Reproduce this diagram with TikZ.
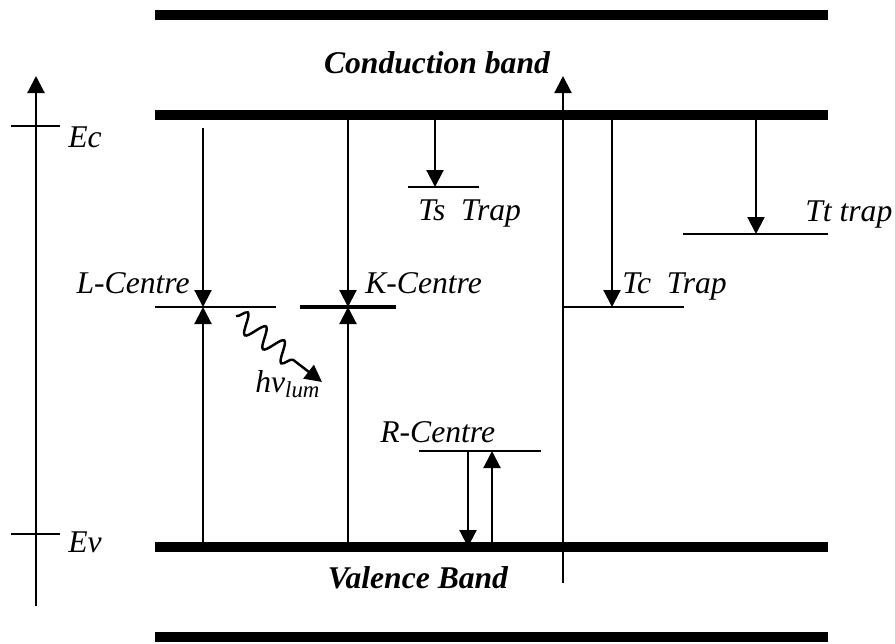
\documentclass[tikz,border=0pt]{standalone}
\usepackage{fontspec}
\setmainfont{Liberation Serif}
\usetikzlibrary{arrows.meta,decorations.pathmorphing}

\begin{document}
\begin{tikzpicture}[x=0.02cm, y=-0.02cm, >={Triangle[length=0.34cm, width=0.34cm]},
    band/.style={line width=6.2pt},
    level/.style={line width=1.2pt},
    trans/.style={->, line width=1.2pt},
    lbl/.style={font=\fontsize{18}{21}\selectfont\itshape, inner sep=0pt, anchor=base west},
    bandlbl/.style={font=\fontsize{18}{21}\selectfont\bfseries\itshape, inner sep=0pt, anchor=base}]
    \useasboundingbox (0,0) rectangle (895,643);
    % bands
    \draw[band] (155,15) -- (828,15);
    \draw[band] (155,115) -- (828,115);
    \draw[band] (155,547) -- (828,547);
    \draw[band] (155,637) -- (828,637);
    \node[bandlbl] (cb) at (437,73) {Conduction band};
    \node[bandlbl] (vb) at (418,588) {Valence Band};
    % energy axis
    \coordinate (axBot) at (36,606);
    \coordinate (axTop) at (36,76);
    \draw[trans] (axBot) -- (axTop);
    \draw[level] (11,126) -- (60,126);
    \draw[level] (11,534) -- (60,534);
    \node[lbl] (ec) at (68,147) {Ec};
    \node[lbl] (ev) at (68,552) {Ev};
    % levels
    \draw[level] (155,307) -- (276,307);
    \draw[line width=1.9pt] (300,307) -- (396,307);
    \draw[level] (408,187) -- (479,187);
    \draw[level] (683,234) -- (828,234);
    \draw[level] (563,307) -- (684,307);
    \draw[level] (419,451) -- (541,451);
    \node[lbl, anchor=base east] (lc) at (190,293) {L-Centre};
    \node[lbl] (kc) at (365,293) {K-Centre};
    \node[lbl] (ts) at (418,220) {Ts\ \ Trap};
    \node[lbl] (tt) at (805,221) {Tt trap};
    \node[lbl] (tc) at (622,293) {Tc\ \ Trap};
    \node[lbl] (rc) at (380,442) {R-Centre};
    \node[lbl] (hv) at (255,392) {hν\textsubscript{\fontsize{13}{15}\selectfont lum}};
    % end points
    \coordinate (lTop) at (203,128);
    \coordinate (lLvl) at (203,307);
    \coordinate (lBot) at (203,542);
    \coordinate (kTop) at (348,120);
    \coordinate (kLvl) at (348,307);
    \coordinate (kBot) at (348,542);
    \coordinate (sTop) at (435,120);
    \coordinate (sLvl) at (435,187);
    \coordinate (tTop) at (756,120);
    \coordinate (tLvl) at (756,234);
    \coordinate (cTop) at (612,120);
    \coordinate (cLvl) at (612,307);
    \coordinate (rDnTop) at (468,451);
    \coordinate (rDnBot) at (468,547);
    \coordinate (rUpBot) at (492,542);
    \coordinate (rUpTop) at (492,451);
    \coordinate (longBot) at (563,583);
    \coordinate (longTop) at (563,76);
    \coordinate (waveA) at (236,316);
    \coordinate (waveB) at (322,382);
    % transitions
    \draw[trans] (lTop) -- (lLvl);
    \draw[trans] (lBot) -- (lLvl);
    \draw[trans] (kTop) -- (kLvl);
    \draw[trans] (kBot) -- (kLvl);
    \draw[trans] (sTop) -- (sLvl);
    \draw[trans] (tTop) -- (tLvl);
    \draw[trans] (cTop) -- (cLvl);
    \draw[trans] (rDnTop) -- (rDnBot);
    \draw[trans] (rUpBot) -- (rUpTop);
    \draw[trans] (longBot) -- (longTop);
    \draw[trans, line width=1.4pt, decorate, decoration={snake, amplitude=0.2cm, segment length=0.46cm, post length=0.65cm}] (waveA) -- (waveB);
\end{tikzpicture}
\end{document}
